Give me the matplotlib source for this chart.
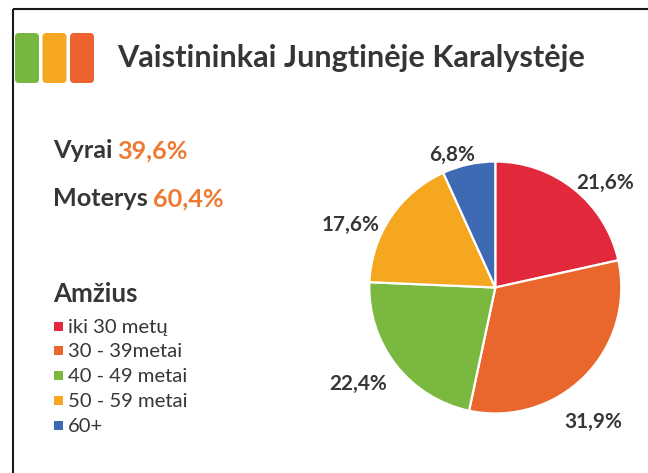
import matplotlib
matplotlib.use('Agg')
import matplotlib.pyplot as plt
from matplotlib.patches import FancyBboxPatch, Rectangle
import numpy as np

# ---------------- data ----------------
title = "Vaistininkai Jungtinėje Karalystėje"
gender_labels = ["Vyrai", "Moterys"]
gender_values = ["39,6%", "60,4%"]
legend_title = "Amžius"
age_groups = ["iki 30 metų", "30 - 39metai", "40 - 49 metai", "50 - 59 metai", "60+"]
age_shares = [21.6, 31.9, 22.4, 17.6, 6.8]

# ---------------- style ----------------
age_colors = ["#E2293B", "#E9672D", "#7AB840", "#F5A720", "#3E69B3"]
header_colors = ["#76B83F", "#F5A81F", "#EC6330"]
TXT = "#363636"
ACCENT = "#EE7A33"
FONT = ["Lato", "DejaVu Sans"]
label_angle_shift = [-7.6, -9.0, -2.8, 10.7, 5.9]
label_radius = [1.20, 1.32, 1.33, 1.25, 1.11]

W, H = 648, 473
fig = plt.figure(figsize=(W / 100, H / 100), dpi=100)
fig.patch.set_facecolor("white")
bg = fig.add_axes([0, 0, 1, 1])
bg.set_xlim(0, W)
bg.set_ylim(H, 0)
bg.axis("off")
renderer = fig.canvas.get_renderer()


def fit(txt, width, weight="normal"):
    t = bg.text(0, 0, txt, fontsize=20, family=FONT, weight=weight)
    w = t.get_window_extent(renderer).width
    t.remove()
    return 20 * width / w


# frame (top and left edges)
bg.plot([13, 13], [H, 9], color="#1a1a1a", lw=1.5, solid_capstyle="butt")
bg.plot([13, W], [9, 9], color="#1a1a1a", lw=1.5, solid_capstyle="butt")

# header blocks
for i, c in enumerate(header_colors):
    x0 = 15 + i * 27.5
    bg.add_patch(FancyBboxPatch((x0 + 4, 37), 24 - 8, 50 - 8,
                                boxstyle="round,pad=4", fc=c, ec="none"))

# title
fs_title = fit(title, 468, "bold")
bg.text(117, 67, title, fontsize=fs_title, family=FONT, weight="bold",
        color=TXT, va="baseline", ha="left")

# gender lines
fs_g = fit("Moterys", 95, "bold")
for i, (lab, val) in enumerate(zip(gender_labels, gender_values)):
    yb = 158 + i * 48
    t = bg.text(53, yb, lab, fontsize=fs_g, family=FONT, weight="bold",
                color=TXT, va="baseline")
    ext = t.get_window_extent(renderer)
    x_end = ext.x1
    bg.text(x_end + 5, yb, val, fontsize=fs_g, family=FONT, weight="bold",
            color=ACCENT, va="baseline")

# legend title
fs_lt = fit(legend_title, 84, "bold")
bg.text(53, 302, legend_title, fontsize=fs_lt, family=FONT, weight="bold",
        color=TXT, va="baseline")

# legend entries
fs_li = fit(age_groups[0], 100, "normal")
for i, (lab, c) in enumerate(zip(age_groups, age_colors)):
    yc = 326 + i * 24.8
    bg.add_patch(Rectangle((53.5, yc - 4.5), 9, 9, fc=c, ec="none"))
    bg.text(68, yc + 6.5, lab, fontsize=fs_li, family=FONT, color=TXT,
            va="baseline")

# pie
cx, cy, R = 495.3, 287.5, 126
pax = fig.add_axes([(cx - R) / W, (H - cy - R) / H, 2 * R / W, 2 * R / H])
wedges, _ = pax.pie(age_shares, colors=age_colors, startangle=90,
                    counterclock=False,
                    wedgeprops=dict(edgecolor="white", linewidth=1.6))
pax.set_xlim(-1, 1)
pax.set_ylim(-1, 1)
pax.set_aspect("equal")
pax.axis("off")

fs_pl = fit("21,6%", 58, "bold")
for w, v, da, r in zip(wedges, age_shares, label_angle_shift, label_radius):
    mid = np.deg2rad((w.theta1 + w.theta2) / 2 + da)
    pax.text(r * np.cos(mid), r * np.sin(mid), f"{v:.1f}%".replace(".", ","),
             fontsize=fs_pl, family=FONT, weight="bold", color=TXT,
             ha="center", va="center", clip_on=False)

fig.savefig("out.png", dpi=100, facecolor="white")
